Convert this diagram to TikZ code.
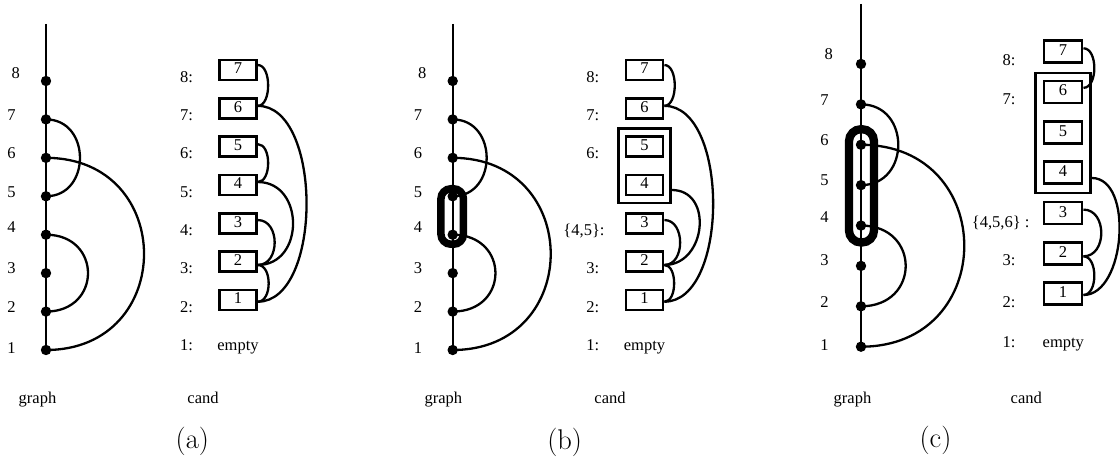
\documentclass[tikz,border=0pt]{standalone}
\usepackage{fontspec}
\newfontfamily\lblfont{Liberation Serif}
\newfontfamily\capfont{Latin Modern Roman}
\usetikzlibrary{calc,backgrounds}

\begin{document}
\begin{tikzpicture}[x=1pt,y=-1pt,
  lbl/.style={font=\lblfont\fontsize{16.5}{18}\selectfont, inner sep=0pt,
    text height=10.9pt, text depth=0pt},
  vtx/.style={circle, fill=black, inner sep=0pt, minimum size=10.4pt},
  spine/.style={line width=2.2pt},
  edge/.style={line width=2.3pt},
  cbox/.style={draw, line width=2.6pt, inner sep=0pt,
    font=\lblfont\fontsize{16.5}{18}\selectfont,
    text height=10.9pt, text depth=3pt,
    minimum width=37pt, minimum height=20.1pt},
  cboxc/.style={cbox, minimum width=38.3pt, minimum height=22pt},
  grp/.style={draw, line width=2.5pt, inner sep=0pt},
  hl/.style={draw, line width=7.5pt, rounded corners=10pt, inner sep=0pt},
  captext/.style={font=\capfont\fontsize{28.5}{31}\selectfont, inner sep=0pt}
]
\useasboundingbox (0,0) rectangle (1120,457);

% ---------------- (a) ----------------
\foreach \k in {1,...,8}
  \node[vtx] (ga\k) at (46,{350-(\k-1)*38.43}) {};
\coordinate (ga-top) at (46,24);
\foreach \k/\x/\y in {8/15.8/72.7, 7/11.5/115, 6/11.5/153.3, 5/11.5/192.4,
                      4/11.5/226.7, 3/11.5/268.3, 2/11.5/306.7, 1/11.5/348.3}
  \node[lbl] (gla\k) at (\x,\y) {\k};
\begin{pgfonlayer}{background}
  \draw[spine] (ga-top) -- (ga1.center);
  \draw[edge] (ga7.center) .. controls +(45.3,0) and +(45.3,0) .. (ga5.center);
  \draw[edge] (ga6.center) .. controls +(130.7,0) and +(130.7,0) .. (ga1.center);
  \draw[edge] (ga4.center) .. controls +(56,0) and +(56,0) .. (ga2.center);
\end{pgfonlayer}

\foreach \k in {1,...,7}
  \node[cbox] (ca\k) at (238,{300-(\k-1)*38.33}) {\k};
\foreach \r/\y in {8/77.5, 7/115.2, 6/153.5, 5/192.5, 4/230.2, 3/268.5, 2/307.2, 1/345}
  \node[lbl] (rla\r) at (186.5,\y) {\r:};
\node[lbl] (ea) at (238,345) {empty};
\draw[edge] ($(ca7.east)+(0,-5)$) .. controls +(13.8,0) and +(13.8,0) .. ($(ca6.east)+(0,-2.5)$);
\draw[edge] ($(ca6.east)+(0,-2.5)$) .. controls +(65,0) and +(65,0) .. ($(ca1.east)+(0,1.7)$);
\draw[edge] ($(ca5.east)+(0,-2.5)$) .. controls +(13.8,0) and +(13.8,0) .. ($(ca4.east)+(0,-3)$);
\draw[edge] ($(ca4.east)+(0,-3)$) .. controls +(47,0) and +(47,0) .. ($(ca2.east)+(0,3.3)$);
\draw[edge] ($(ca3.east)+(0,-3.3)$) .. controls +(22.5,0) and +(22.5,0) .. ($(ca2.east)+(0,3.3)$);
\draw[edge] ($(ca2.east)+(0,3.3)$) .. controls +(14.5,0) and +(14.5,0) .. ($(ca1.east)+(0,1.7)$);

\node[lbl] (gra) at (37.5,397.8) {graph};
\node[lbl] (cna) at (203,397.8) {cand};
\node[captext] (capa) at (192.3,441) {(a)};

% ---------------- (b) ----------------
\foreach \k in {1,...,8}
  \node[vtx] (gb\k) at (452.7,{350-(\k-1)*38.43}) {};
\coordinate (gb-top) at (452.7,24);
\foreach \k/\x/\y in {8/422.3/72.7, 7/418/115, 6/418/153.3, 5/418/192.4,
                      4/418/226.7, 3/418/268.3, 2/418/306.7, 1/418/348.3}
  \node[lbl] (glb\k) at (\x,\y) {\k};
\begin{pgfonlayer}{background}
  \node[hl, minimum width=22.5pt, minimum height=55.5pt] (hb) at (452.2,216.5) {};
  \draw[spine] (gb-top) -- (gb1.center);
  \draw[edge] (gb7.center) .. controls +(45.3,0) and +(45.3,0) .. (gb5.center);
  \draw[edge] (gb6.center) .. controls +(130.7,0) and +(130.7,0) .. (gb1.center);
  \draw[edge] (gb4.center) .. controls +(57,0) and +(57,0) .. (gb2.center);
\end{pgfonlayer}

\foreach \k in {1,...,7}
  \node[cbox] (cb\k) at (644.6,{300-(\k-1)*38.33}) {\k};
\node[grp, minimum width=52.1pt, minimum height=74.4pt] (grb) at (644.5,165.65) {};
\foreach \r/\y in {8/77.5, 7/115.2, 6/153.5, 3/268.5, 2/307.2, 1/345}
  \node[lbl] (rlb\r) at (592.8,\y) {\r:};
\node[lbl] (rlb45) at (584,230) {\{4,5\}:};
\node[lbl] (eb) at (644.5,345) {empty};
\draw[edge] ($(cb7.east)+(0,-5)$) .. controls +(13.8,0) and +(13.8,0) .. ($(cb6.east)+(0,-2.5)$);
\draw[edge] ($(cb6.east)+(0,-2.5)$) .. controls +(65,0) and +(65,0) .. ($(cb1.east)+(0,1.7)$);
\draw[edge] ($(grb.east)+(0,24.35)$) .. controls +(41.9,0) and +(41.9,0) .. ($(cb2.east)+(0,3.3)$);
\draw[edge] ($(cb3.east)+(0,-3.3)$) .. controls +(21,0) and +(21,0) .. ($(cb2.east)+(0,3.3)$);
\draw[edge] ($(cb2.east)+(0,3.3)$) .. controls +(13,0) and +(13,0) .. ($(cb1.east)+(0,1.7)$);

\node[lbl] (grb-t) at (443.3,397.8) {graph};
\node[lbl] (cnb) at (610,397.8) {cand};
\node[captext] (capb) at (564.7,442) {(b)};

% ---------------- (c) ----------------
\foreach \k in {1,...,8}
  \node[vtx] (gc\k) at (861,{346.7-(\k-1)*40.39}) {};
\coordinate (gc-top) at (861,4);
\foreach \k/\x/\y in {8/828.7/54.3, 7/824.5/100, 6/824.5/140, 5/824.5/180,
                      4/824.5/216.7, 3/824.5/260, 2/824.5/301.7, 1/824.5/345}
  \node[lbl] (glc\k) at (\x,\y) {\k};
\begin{pgfonlayer}{background}
  \node[hl, line width=8.3pt, rounded corners=12pt, minimum width=25pt,
        minimum height=113.3pt] (hc) at (861.5,185.85) {};
  \draw[spine] (gc-top) -- (gc1.center);
  \draw[edge] (gc7.center) .. controls +(49.7,0) and +(49.7,0) .. (gc5.center);
  \draw[edge] (gc6.center) .. controls +(137.7,0) and +(137.7,0) .. (gc1.center);
  \draw[edge] (gc4.center) .. controls +(59.6,0) and +(59.6,0) .. (gc2.center);
\end{pgfonlayer}

\foreach \k in {1,...,7}
  \node[cboxc] (cc\k) at (1063,{293.8-(\k-1)*40.35}) {\k};
\node[grp, minimum width=55.1pt, minimum height=120pt] (grc) at (1063,132.85) {};
\foreach \r/\y in {8/60, 7/99.5, 3/260, 2/301.7, 1/341.7}
  \node[lbl] (rlc\r) at (1009,\y) {\r:};
\node[lbl] (rlc456) at (1000.7,221.7) {\{4,5,6\} :};
\node[lbl] (ec) at (1063.3,341.7) {empty};
\draw[edge] ($(cc7.east)+(0,-3.4)$) .. controls +(14.5,0) and +(14.5,0) .. ($(cc6.east)+(0,-4.2)$);
\draw[edge] ($(grc.east)+(0,45.15)$) .. controls +(42.2,0) and +(42.2,0) .. ($(cc1.east)+(0,1.2)$);
\draw[edge] ($(cc3.east)+(0,-3.5)$) .. controls +(23.8,0) and +(23.8,0) .. ($(cc2.east)+(0,2.9)$);
\draw[edge] ($(cc2.east)+(0,2.9)$) .. controls +(14.5,0) and +(14.5,0) .. ($(cc1.east)+(0,1.2)$);

\node[lbl] (grc-t) at (852.5,397.8) {graph};
\node[lbl] (cnc) at (1026.3,397.8) {cand};
\node[captext] (capc) at (935.5,440) {(c)};
\end{tikzpicture}
\end{document}
